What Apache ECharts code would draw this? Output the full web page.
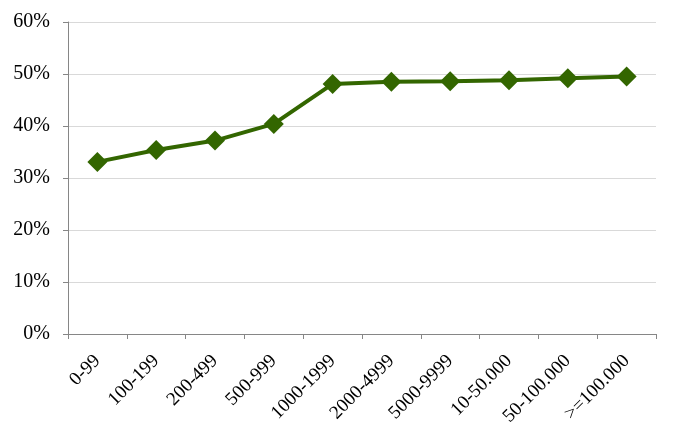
<!DOCTYPE html>
<html><head><meta charset="utf-8">
<script src="https://cdn.jsdelivr.net/npm/echarts@6/dist/echarts.min.js"></script>
<style>html,body{margin:0;padding:0;background:#fff}#c{width:679px;height:443px}</style>
</head><body><div id="c"></div>
<script>
var categories = ['0-99','100-199','200-499','500-999','1000-1999','2000-4999','5000-9999','10-50.000','50-100.000','>=100.000'];
var values = [33.1, 35.4, 37.2, 40.4, 48.1, 48.5, 48.6, 48.8, 49.2, 49.5];
var yTicks = [0, 10, 20, 30, 40, 50, 60];
var chart = echarts.init(document.getElementById('c'));
var font = 'Liberation Serif, Times New Roman, serif';
chart.setOption({
  animation: false,
  grid: {left: 68, right: 23, top: 22, bottom: 109, containLabel: false},
  xAxis: {
    type: 'category', data: categories, boundaryGap: true,
    axisLine: {lineStyle: {color: '#868686', width: 1}},
    axisTick: {show: true, length: 5, lineStyle: {color: '#868686'}},
    axisLabel: {rotate: 45, color: '#000', fontFamily: font, fontSize: 19, margin: 24, interval: 0}
  },
  yAxis: {
    type: 'value', min: yTicks[0], max: yTicks[yTicks.length-1], interval: 10,
    axisLine: {show: true, lineStyle: {color: '#868686', width: 1}},
    axisTick: {show: true, length: 5, lineStyle: {color: '#868686'}},
    splitLine: {lineStyle: {color: '#d9d9d9', width: 1}},
    axisLabel: {formatter: '{value}%', color: '#000', fontFamily: font, fontSize: 20, margin: 18}
  },
  series: [{
    type: 'line', data: values,
    lineStyle: {color: '#336600', width: 4},
    itemStyle: {color: '#336600'},
    symbol: 'diamond', symbolSize: 20,
    z: 3
  }]
});
</script></body></html>
